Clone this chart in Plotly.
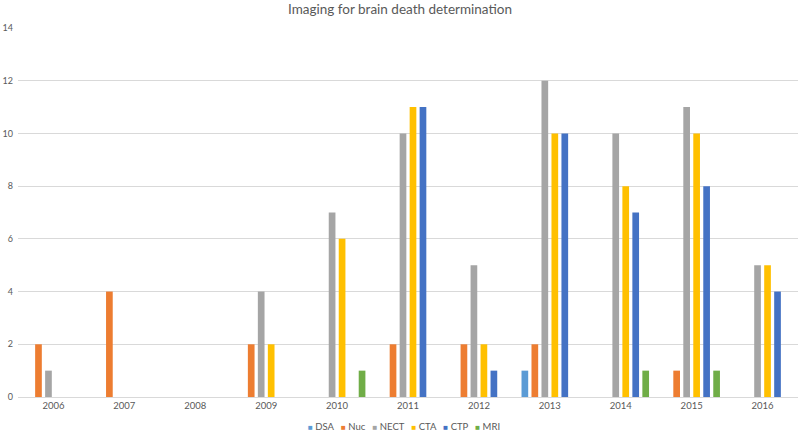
import plotly.graph_objects as go

years = ["2006", "2007", "2008", "2009", "2010", "2011", "2012", "2013", "2014", "2015", "2016"]
dsa  = [None, None, None, None, None, None, None, 1, None, None, None]
nuc  = [2, 4, None, 2, None, 2, 2, 2, None, 1, None]
nect = [1, None, None, 4, 7, 10, 5, 12, 10, 11, 5]
cta  = [None, None, None, 2, 6, 11, 2, 10, 8, 10, 5]
ctp  = [None, None, None, None, None, 11, 1, 10, 7, 8, 4]
mri  = [None, None, None, None, 1, None, None, None, 1, 1, None]

series = [("DSA", dsa, "#5B9BD5"), ("Nuc", nuc, "#ED7D31"), ("NECT", nect, "#A5A5A5"),
          ("CTA", cta, "#FFC000"), ("CTP", ctp, "#4472C4"), ("MRI", mri, "#70AD47")]

fig = go.Figure()
for name, vals, col in series:
    fig.add_trace(go.Bar(x=years, y=vals, name=name, marker_color=col, marker_line_width=0,
                         showlegend=False))

# compact legend built from the series names/colours
legend_text = "&nbsp;&nbsp;&nbsp;".join(
    f"<span style='color:{col};font-size:8px'>■</span> {name}" for name, _, col in series)
fig.add_annotation(text=legend_text, xref="paper", yref="paper", x=0.5, y=-0.08,
                   xanchor="center", yanchor="middle", showarrow=False, xshift=-4,
                   font=dict(size=9.5, color="#595959"))

fig.update_layout(
    width=800, height=435,
    margin=dict(l=18, r=2, t=28, b=38),
    paper_bgcolor="white", plot_bgcolor="white",
    font=dict(family="Lato, Liberation Sans, sans-serif", color="#595959", size=10),
    title=dict(text="Imaging for brain death determination", x=0.5, xanchor="center",
               y=0.979, yanchor="middle", font=dict(size=13.5, color="#595959")),
    barmode="group", bargap=0.155, bargroupgap=0.33,
    xaxis=dict(showgrid=False, showline=True, linecolor="#D9D9D9", linewidth=1,
               ticks="", tickfont=dict(size=9.5), automargin=False),
    yaxis=dict(range=[0, 14], dtick=2, showgrid=True, gridcolor="#D9D9D9", gridwidth=1,
               zeroline=False, ticks="", tickfont=dict(size=9), automargin=False, ticklabelstandoff=4),
)
fig.write_html("out.html", config={"displayModeBar": False},
               post_script="document.body.style.margin='0';document.body.style.padding='0';")
